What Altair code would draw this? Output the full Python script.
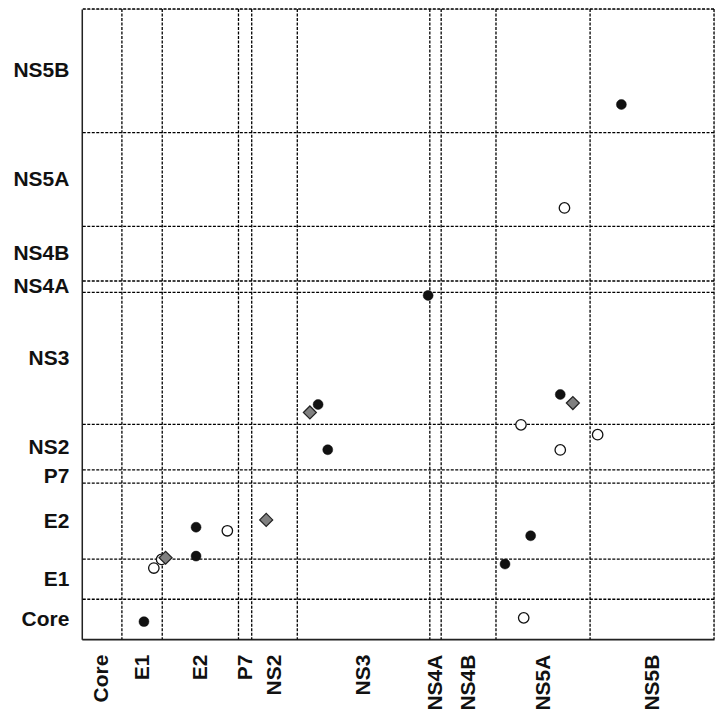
import altair as alt
import pandas as pd

# HCV polyprotein regions (amino-acid positions)
regions = ["Core", "E1", "E2", "P7", "NS2", "NS3", "NS4A", "NS4B", "NS5A", "NS5B"]
region_start = [0, 191, 383, 746, 809, 1026, 1657, 1711, 1972, 2420]
region_end = [191, 383, 746, 809, 1026, 1657, 1711, 1972, 2420, 3010]

# points (x position, y position) by kind
filled_x = [2569, 1649, 1125, 1171, 544, 544, 296, 2278, 2137, 2015]
filled_y = [2554, 1642, 1121, 905, 535, 397, 84, 1169, 494, 359]
open_x = [2298, 693, 380, 343, 2091, 2456, 2278, 2104]
open_y = [2060, 518, 381, 340, 1024, 977, 904, 102]
diamond_x = [1086, 878, 399, 2338]
diamond_y = [1083, 570, 389, 1128]

mids = [(a + b) / 2 for a, b in zip(region_start, region_end)]
label_expr = " : ".join(f"datum.value == {m} ? '{r}'" for m, r in zip(mids, regions)) + " : ''"

grid_df = pd.DataFrame({"b": region_end})
filled_df = pd.DataFrame({"x": filled_x, "y": filled_y})
open_df = pd.DataFrame({"x": open_x, "y": open_y})
diamond_df = pd.DataFrame({"x": diamond_x, "y": diamond_y})

FONT = "Liberation Sans"
xscale = alt.Scale(domain=[0, 3010], nice=False, zero=False)
yscale = alt.Scale(domain=[0, 3010], nice=False, zero=False)

xaxis = alt.Axis(values=mids, labelExpr=label_expr, labelAngle=-90, ticks=False, grid=False,
                 title=None, labelFont=FONT, labelFontSize=21, labelFontWeight="bold",
                 labelColor="#111", labelPadding=15, labelOverlap=False, labelFlush=False,
                 domainColor="#222", domainWidth=1.8)
yaxis = alt.Axis(values=mids, labelExpr=label_expr, ticks=False, grid=False,
                 title=None, labelFont=FONT, labelFontSize=21, labelFontWeight="bold",
                 labelColor="#111", labelPadding=13, labelOverlap=False, labelFlush=False,
                 domainColor="#222", domainWidth=1.5)

vgrid = alt.Chart(grid_df).mark_rule(color="#000", strokeWidth=1.3, strokeDash=[3, 1.5]).encode(
    x=alt.X("b:Q", scale=xscale, axis=xaxis))
hgrid = alt.Chart(grid_df).mark_rule(color="#000", strokeWidth=1.3, strokeDash=[3, 1.5]).encode(
    y=alt.Y("b:Q", scale=yscale, axis=yaxis))

opens = alt.Chart(open_df).mark_point(shape="circle", filled=True, fill="white", stroke="#111",
                                      strokeWidth=1.3, size=110, opacity=1).encode(
    x=alt.X("x:Q", scale=xscale), y=alt.Y("y:Q", scale=yscale))
filled = alt.Chart(filled_df).mark_point(shape="circle", filled=True, fill="#111", stroke="#111",
                                         strokeWidth=0.5, size=100, opacity=1).encode(
    x=alt.X("x:Q", scale=xscale), y=alt.Y("y:Q", scale=yscale))
diamonds = alt.Chart(diamond_df).mark_point(shape="diamond", filled=True, fill="#808080", stroke="#222",
                                            strokeWidth=1.2, size=170, opacity=1).encode(
    x=alt.X("x:Q", scale=xscale), y=alt.Y("y:Q", scale=yscale))

chart = alt.layer(vgrid, hgrid, opens, filled, diamonds).properties(
    width=634, height=632,
    autosize=alt.AutoSizeParams(type="none"),
    padding={"left": 74, "top": 0, "right": 2, "bottom": 80},
).configure_view(stroke=None).configure(background="white")

chart.save("out.html", embed_options={"renderer": "svg", "actions": False})
